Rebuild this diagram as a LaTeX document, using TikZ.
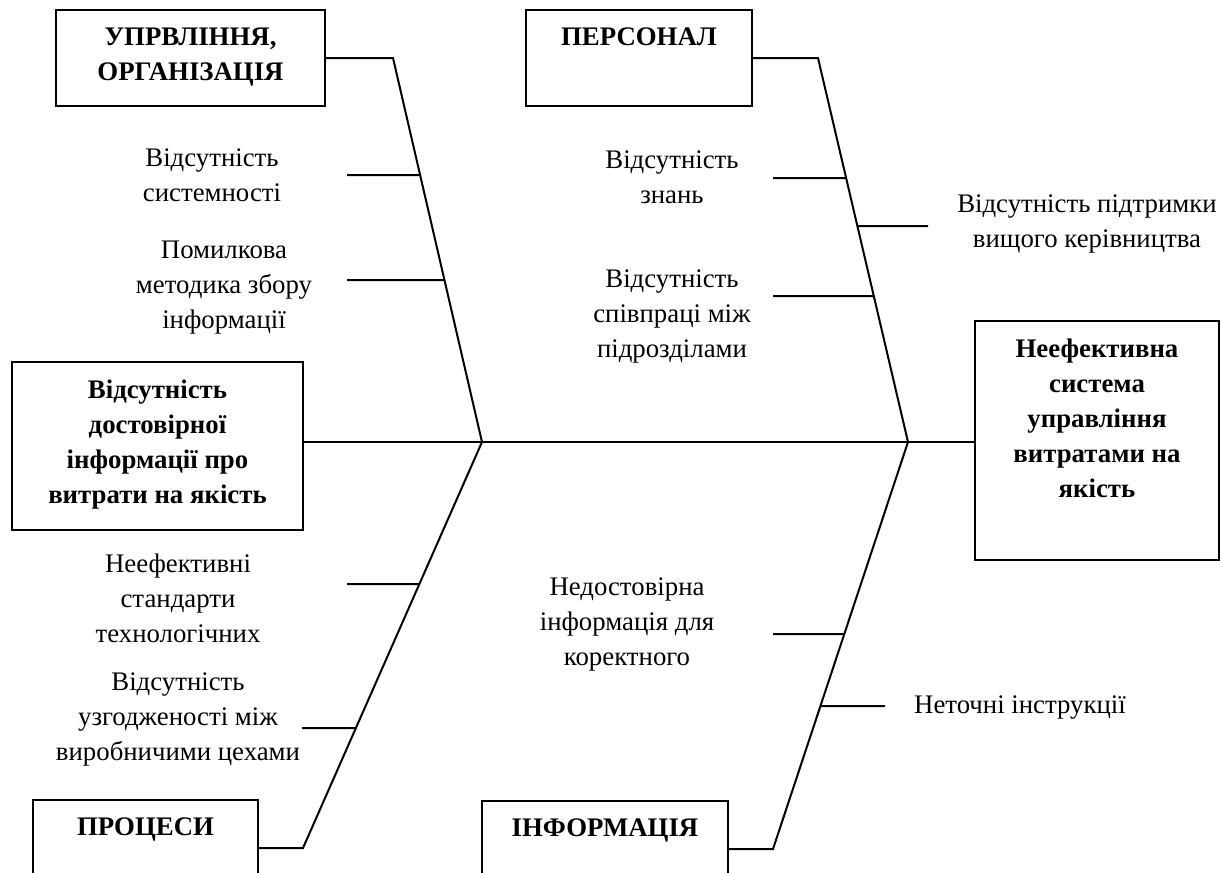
\documentclass[tikz,border=0pt]{standalone}
\usepackage{fontspec}
\setmainfont{Liberation Serif}
\newcommand{\fsz}{\fontsize{13.4pt}{17.5pt}\selectfont}
\tikzset{
  catbox/.style 2 args={draw,inner sep=0pt,minimum width=#1,minimum height=#2},
  boxtext/.style={anchor=north,align=center,inner sep=0pt,yshift=-9pt,font=\fsz\bfseries},
  reason/.style={align=center,inner sep=0pt,font=\fsz}
}

\begin{document}
\begin{tikzpicture}[x=0.5pt,y=-0.5pt,line width=1pt]
\useasboundingbox (0,0) rectangle (1222,873);
\node[catbox={134.5pt}{48pt},label={[boxtext]north:УПРВЛІННЯ,\\ОРГАНІЗАЦІЯ}] (upr) at (190.5,58) {};
\node[catbox={113pt}{48pt},label={[boxtext]north:ПЕРСОНАЛ}] (pers) at (639,58) {};
\node[catbox={145.5pt}{84pt},label={[boxtext]north:Відсутність\\достовірної\\інформації про\\витрати на якість}] (cause) at (157.5,446) {};
\node[catbox={122pt}{119.5pt},label={[boxtext]north:Неефективна\\система\\управління\\витратами на\\якість}] (effect) at (1097,440.5) {};
\node[catbox={112.5pt}{48pt},label={[boxtext]north:ПРОЦЕСИ}] (proc) at (145.5,848) {};
\node[catbox={123pt}{48pt},label={[boxtext]north:ІНФОРМАЦІЯ}] (info) at (605,849) {};

\coordinate (m1) at (482,442);
\coordinate (m2) at (908,442);
\coordinate (k1) at (393,58);
\coordinate (k2) at (818,58);
\coordinate (k3) at (303,848);
\coordinate (k4) at (773,849);

\draw (cause.east |- m1) -- (effect.west |- m1);
\draw (upr.east) -- (k1) -- (m1);
\draw (pers.east) -- (k2) -- (m2);
\draw (proc.east) -- (k3) -- (m1);
\draw (info.east) -- (k4) -- (m2);

\node[reason] (t1) at (212,175) {Відсутність\\системності};
\node[reason] (t2) at (224,288) {Помилкова\\методика збору\\інформації};
\node[reason] (t3) at (672,177) {Відсутність\\знань};
\node[reason] (t4) at (1087,224) {Відсутність підтримки\\вищого керівництва};
\node[reason] (t5) at (672,316) {Відсутність\\співпраці між\\підрозділами};
\node[reason] (t6) at (178,598) {Неефективні\\стандарти\\технологічних};
\node[reason] (t7) at (178,719) {Відсутність\\узгодженості між\\виробничими цехами};
\node[reason] (t8) at (627,624) {Недостовірна\\інформація для\\коректного};
\node[reason] (t9) at (1020,708) {Неточні інструкції};

\coordinate (s1) at (347,175);
\coordinate (s2) at (347,280);
\coordinate (s3) at (773,178);
\coordinate (s4) at (928,226);
\coordinate (s5) at (773,296);
\coordinate (s6) at (347,584);
\coordinate (s7) at (302,728);
\coordinate (s8) at (773,634);
\coordinate (s9) at (885,706);
\draw (s1) -- (intersection of k1--m1 and 0,175--1,175);
\draw (s2) -- (intersection of k1--m1 and 0,280--1,280);
\draw (s3) -- (intersection of k2--m2 and 0,178--1,178);
\draw (s4) -- (intersection of k2--m2 and 0,226--1,226);
\draw (s5) -- (intersection of k2--m2 and 0,296--1,296);
\draw (s6) -- (intersection of k3--m1 and 0,584--1,584);
\draw (s7) -- (intersection of k3--m1 and 0,728--1,728);
\draw (s8) -- (intersection of k4--m2 and 0,634--1,634);
\draw (s9) -- (intersection of k4--m2 and 0,706--1,706);
\end{tikzpicture}
\end{document}
